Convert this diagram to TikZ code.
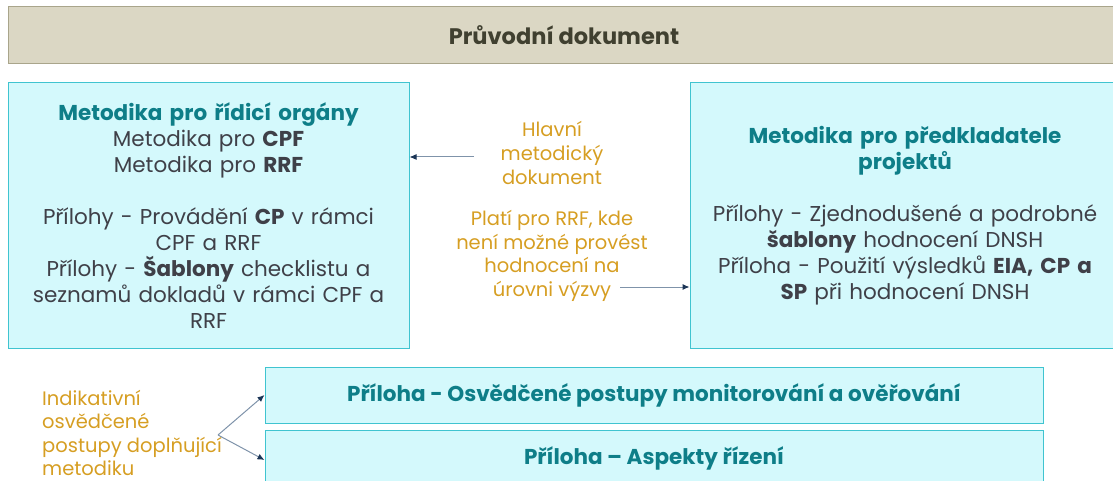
\documentclass[tikz,border=0pt]{standalone}
\usepackage{fontspec}
\setmainfont{Poppins}
\usetikzlibrary{arrows.meta}
\definecolor{boxFill}{HTML}{D4F9FC}
\definecolor{boxLine}{HTML}{40C4D0}
\definecolor{titleTeal}{HTML}{0E7E88}
\definecolor{bodyGray}{HTML}{3F4048}
\definecolor{noteOrange}{HTML}{D69E22}
\definecolor{beigeFill}{HTML}{DBD7C4}
\definecolor{beigeLine}{HTML}{A9A58B}
\definecolor{beigeText}{HTML}{404030}
\definecolor{arrowLine}{HTML}{7F93AA}
\definecolor{arrowTip}{HTML}{1B3556}
\begin{document}
\begin{tikzpicture}
[x=1pt,y=-1pt,
  boxDecorate/.style={draw=boxLine,fill=boxFill,line width=1pt,inner sep=0pt,
    align=center,text=bodyGray,font=\fontsize{21.5}{26}\selectfont},%
  noteDecorate/.style={text=noteOrange,inner sep=0pt,font=\fontsize{19.5}{23.6}\selectfont},%
  lineDecorate/.style={draw=arrowLine,line width=1pt,-{Latex[length=7pt,width=6pt,color=arrowTip]}},%
  titleDecorate/.style={text=titleTeal,font=\bfseries}]
\useasboundingbox (0,0) rectangle (1113,481);
%% nodes or boxes
\node (pruvodni) at (564,35.5) [draw=beigeLine,fill=beigeFill,line width=1pt,
  minimum width=1112pt,minimum height=57pt,inner sep=0pt,text=beigeText,
  font=\fontsize{22.5}{26}\selectfont\bfseries] {Průvodní dokument};
\node (ridici) at (208.5,215.5) [boxDecorate,minimum width=401pt,minimum height=265pt,text width=395pt]
  {{\color{titleTeal}\bfseries Metodika pro řídicí orgány}\\
   Metodika pro \textbf{CPF}\\
   Metodika pro \textbf{RRF}\\[26pt]
   Přílohy - Provádění \textbf{CP} v rámci\\
   CPF a RRF\\
   Přílohy - \textbf{Šablony} checklistu a\\
   seznamů dokladů v rámci CPF a\\
   RRF};
\node (predkladatel) at (905,215.5) [boxDecorate,minimum width=430pt,minimum height=265pt,text width=425pt]
  {{\color{titleTeal}\bfseries Metodika pro předkladatele\\ projektů}\\[26pt]
   Přílohy - Zjednodušené a podrobné\\
   \textbf{šablony} hodnocení DNSH\\
   Příloha - Použití výsledků \textbf{EIA, CP a}\\
   \textbf{SP} při hodnocení DNSH};
\node (postupy) at (654,395) [boxDecorate,minimum width=778pt,minimum height=56pt]
  {\color{titleTeal}\bfseries Příloha - Osvědčené postupy monitorování a ověřování};
\node (aspekty) at (654,458) [boxDecorate,minimum width=778pt,minimum height=56pt]
  {\color{titleTeal}\bfseries Příloha – Aspekty řízení};
%% notes
\node (hlavni) at (552,153) [noteDecorate,align=center] {Hlavní\\ metodický\\ dokument};
\node (plati) at (552,256) [noteDecorate,align=center] {Platí pro RRF, kde\\ není možné provést\\ hodnocení na\\ úrovni výzvy};
\node (indikativni) at (42,433) [noteDecorate,anchor=west,align=left] {Indikativní\\ osvědčené\\ postupy doplňující\\ metodiku};
\coordinate (hlavniStart) at (474,157);
\coordinate (platiStart) at (620,287);
\coordinate (indikStart) at (218,435);
%% edges or arrows
\draw[lineDecorate] (hlavniStart) -- (ridici.east |- hlavniStart);
\draw[lineDecorate] (platiStart) -- (predkladatel.west |- platiStart);
\foreach \endnode/\y in {postupy/395, aspekty/460}
{
  \draw[lineDecorate] (indikStart) -- (\endnode.west |- 0,\y);
};
\end{tikzpicture}
\end{document}
